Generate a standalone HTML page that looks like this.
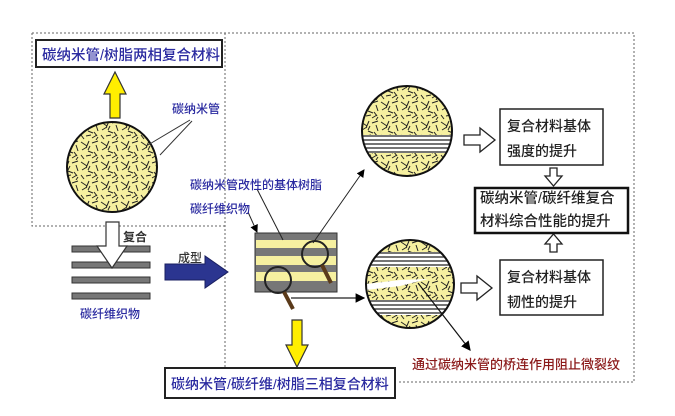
<!DOCTYPE html>
<html><head><meta charset="utf-8"><style>
html,body{margin:0;padding:0;background:#fff;}
body{width:675px;height:416px;overflow:hidden;position:relative;font-family:"Liberation Sans","Noto Sans CJK SC",sans-serif;}
.t{position:absolute;white-space:nowrap;}
.b{font-weight:500;}
</style></head><body>
<svg width="675" height="416" style="position:absolute;left:0;top:0" xmlns="http://www.w3.org/2000/svg">
<defs>
<pattern id="fib" width="20" height="20" patternUnits="userSpaceOnUse">
<rect width="20" height="20" fill="#f6f0a0"/>
<g stroke="#222" stroke-width="1" fill="none">
<path d="M1 2 l6 4"/><path d="M9 1 l-3 7"/><path d="M12 3 l6 -2"/><path d="M16 5 l2 6"/>
<path d="M2 10 l5 -3"/><path d="M8 11 l5 2"/><path d="M14 12 l3 4"/><path d="M1 15 l3 4"/>
<path d="M6 16 l5 -1"/><path d="M12 18 l5 -3"/><path d="M10 6 l-2 4"/><path d="M18 17 l-2 3"/>
</g></pattern>
<clipPath id="c1"><circle cx="407" cy="131" r="45"/></clipPath>
<clipPath id="c2"><circle cx="410" cy="284" r="44"/></clipPath>
<marker id="ah" markerWidth="8" markerHeight="8" refX="7" refY="4" orient="auto"><path d="M0 0 L8 4 L0 8 z" fill="#000"/></marker>
</defs>
<g stroke="#666" stroke-width="1" stroke-dasharray="2,2" fill="none">
<path d="M32 33 H634 V382 H398"/>
<path d="M32 33 V226 H225"/>
<path d="M225 33 V370"/>
</g>
<rect x="36" y="40" width="186" height="27" fill="#fff" stroke="#222" stroke-width="2"/>
<path d="M115 72 L126 94 L120 94 L120 118 L110 118 L110 94 L104 94 Z" fill="#ffee00" stroke="#333" stroke-width="1.2"/>
<circle cx="112" cy="167" r="45" fill="url(#fib)" stroke="#111" stroke-width="2"/>
<path d="M148 145 L190 120 M160 155 L192 121" stroke="#333" stroke-width="1"/>
<g fill="#777" stroke="#333" stroke-width="1">
<rect x="72" y="246" width="78" height="6"/><rect x="72" y="262" width="78" height="6"/>
<rect x="72" y="277" width="78" height="6"/><rect x="72" y="293" width="78" height="6"/>
</g>
<path d="M106 222 H119 V246 H127 L112 268 L97 246 H106 Z" fill="#fff" stroke="#333" stroke-width="1.2"/>
<path d="M165 264 H205 V256 L228 272 L205 288 V280 H165 Z" fill="#2b3590" stroke="#1a1f60" stroke-width="1"/>
<rect x="255" y="233" width="82" height="59" fill="#777" stroke="#333"/>
<g fill="#f6f0a0"><rect x="256" y="240" width="80" height="8"/><rect x="256" y="256" width="80" height="9"/><rect x="256" y="272" width="80" height="9"/></g>
<circle cx="315" cy="254" r="13" fill="none" stroke="#222" stroke-width="2"/>
<path d="M322 265 L331 283" stroke="#5a3a1a" stroke-width="4"/>
<circle cx="278" cy="280" r="13" fill="none" stroke="#222" stroke-width="2"/>
<path d="M284 292 L293 309" stroke="#5a3a1a" stroke-width="4"/>
<path d="M257 189 L283 240" stroke="#222" stroke-width="1"/>
<path d="M248 212 L257 232" stroke="#222" stroke-width="1" marker-end="url(#ah)"/>
<path d="M313 243 L364 170" stroke="#222" stroke-width="1" marker-end="url(#ah)"/>
<path d="M291 298 H364" stroke="#222" stroke-width="1.2" marker-end="url(#ah)"/>
<path d="M292 320 H302 V345 H308 L297 367 L286 345 H292 Z" fill="#ffee00" stroke="#333" stroke-width="1.2"/>
<rect x="165" y="368" width="230" height="30" fill="#fff" stroke="#222" stroke-width="2"/>
<g clip-path="url(#c1)">
<rect x="360" y="80" width="100" height="100" fill="url(#fib)"/>
<rect x="360" y="135" width="100" height="18" fill="#fff"/>
<g stroke="#222" stroke-width="1.2"><path d="M360 136 H460 M360 140 H460 M360 144 H460 M360 148 H460 M360 152 H460"/></g>
</g>
<circle cx="407" cy="131" r="45" fill="none" stroke="#111" stroke-width="2"/>
<g clip-path="url(#c2)">
<rect x="360" y="235" width="100" height="100" fill="url(#fib)"/>
<rect x="360" y="252" width="100" height="15" fill="#fff"/>
<rect x="360" y="300" width="100" height="15" fill="#fff"/>
<g stroke="#222" stroke-width="1.2"><path d="M360 253 H460 M360 257 H460 M360 261 H460 M360 265 H460 M360 301 H460 M360 305 H460 M360 309 H460 M360 313 H460"/></g>
<path d="M366 284 L400 280 L428 279 L400 286 L366 290 Z" fill="#fff"/>
</g>
<circle cx="410" cy="284" r="44" fill="none" stroke="#111" stroke-width="2"/>
<path d="M418 283 L470 350" stroke="#111" stroke-width="1.2" marker-end="url(#ah)"/>
<g fill="#fff" stroke="#222" stroke-width="1.3">
<path d="M464 135 H480 V128 L495 140 L480 152 V145 H464 Z"/>
<path d="M461 283 H477 V276 L492 288 L477 300 V293 H461 Z"/>
<path d="M550 168 H557 V176 H562 L553.5 186 L545 176 H550 Z"/>
<path d="M550 252 H557 V244 H562 L553.5 234 L545 244 H550 Z"/>
</g>
<rect x="500" y="109" width="103" height="56" fill="#fff" stroke="#222" stroke-width="1.5"/>
<rect x="475" y="188" width="153" height="45" fill="#fff" stroke="#111" stroke-width="2.5"/>
<rect x="500" y="260" width="103" height="55" fill="#fff" stroke="#222" stroke-width="1.5"/>
</svg>
<div class="t b" style="left:42px;top:44px;font-size:14.5px;color:#2a2aa0;">碳纳米管/树脂两相复合材料</div>
<div class="t b" style="left:172px;top:100px;font-size:12px;color:#2a2aa0;">碳纳米管</div>
<div class="t" style="left:123px;top:228px;font-size:12px;color:#333;font-weight:bold;">复合</div>
<div class="t b" style="left:80px;top:305px;font-size:12px;color:#2a2aa0;">碳纤维织物</div>
<div class="t b" style="left:178px;top:249px;font-size:12px;color:#333;">成型</div>
<div class="t b" style="left:190px;top:176px;font-size:12px;color:#2a2aa0;">碳纳米管改性的基体树脂</div>
<div class="t b" style="left:190px;top:200px;font-size:12px;color:#2a2aa0;">碳纤维织物</div>
<div class="t b" style="left:171px;top:374px;font-size:14px;color:#2a2aa0;">碳纳米管/碳纤维/树脂三相复合材料</div>
<div class="t b" style="left:507px;top:114px;font-size:14px;color:#222;line-height:25px;">复合材料基体<br>强度的提升</div>
<div class="t b" style="left:480px;top:188px;font-size:14.5px;color:#222;line-height:23px;">碳纳米管/碳纤维复合<br>材料综合性能的提升</div>
<div class="t b" style="left:507px;top:265px;font-size:14px;color:#222;line-height:25px;">复合材料基体<br>韧性的提升</div>
<div class="t b" style="left:412px;top:354px;font-size:13px;color:#8b1a1a;">通过碳纳米管的桥连作用阻止微裂纹</div>
</body></html>
